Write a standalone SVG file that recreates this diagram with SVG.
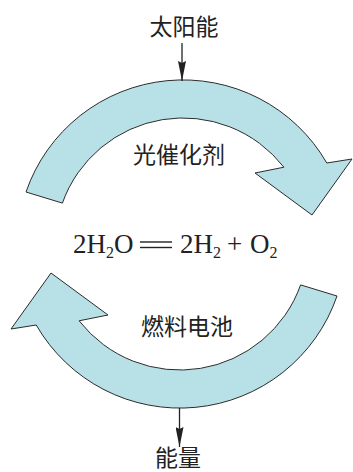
<svg xmlns="http://www.w3.org/2000/svg" width="353" height="472" viewBox="0 0 353 472">
<style>
.band{fill:#b7e1e6;stroke:#2b2b2b;stroke-width:1;stroke-linejoin:miter}
.cjk{font-family:"Noto Sans CJK SC","Noto Sans",sans-serif;font-size:23px;fill:#222;text-anchor:middle}
.eq{font-family:"Liberation Serif","Times New Roman",serif;font-size:27px;fill:#222}
.sub{font-size:16px}
.conn{stroke:#222;stroke-width:1.3;fill:none}
</style>
<defs>
<marker id="ah" viewBox="0 0 20 8" refX="20" refY="4" markerWidth="20" markerHeight="8" markerUnits="userSpaceOnUse" orient="auto">
<path d="M0,0 L20,4 L0,8 L2,4 Z" fill="#222"/>
</marker>
<path id="arc" d="M26,192 A166 166 0 0 1 326.8,163 L352,159 L312,215 L255,173 L283.9,167.2 A128 128 0 0 0 62.4,203.1 Z"/>
</defs>
<g id="photocatalyst">
<use href="#arc" class="band"/>
<text class="cjk" x="179" y="163">光催化剂</text>
</g>
<g id="fuelcell">
<use href="#arc" class="band" transform="rotate(180 181.5 244)"/>
<text class="cjk" x="187" y="335">燃料电池</text>
</g>
<g id="solar">
<text class="cjk" x="184" y="35">太阳能</text>
</g>
<g id="energy">
<text class="cjk" x="178" y="466">能量</text>
</g>
<g id="equation">
<text class="eq" x="73" y="253">2H<tspan class="sub" dy="5">2</tspan><tspan dy="-5">O</tspan></text>
<line x1="140" y1="242" x2="172" y2="242" stroke="#222" stroke-width="1.4"/>
<line x1="140" y1="247.5" x2="172" y2="247.5" stroke="#222" stroke-width="1.4"/>
<text class="eq" x="180" y="253">2H<tspan class="sub" dy="5">2</tspan></text>
<text class="eq" x="227" y="253">+</text>
<text class="eq" x="250" y="253">O<tspan class="sub" dy="5">2</tspan></text>
</g>
<g id="connectors">
<line class="conn" x1="182" y1="43" x2="182" y2="81" marker-end="url(#ah)"/>
<line class="conn" x1="179.5" y1="408" x2="179.5" y2="447" marker-end="url(#ah)"/>
</g>
</svg>
